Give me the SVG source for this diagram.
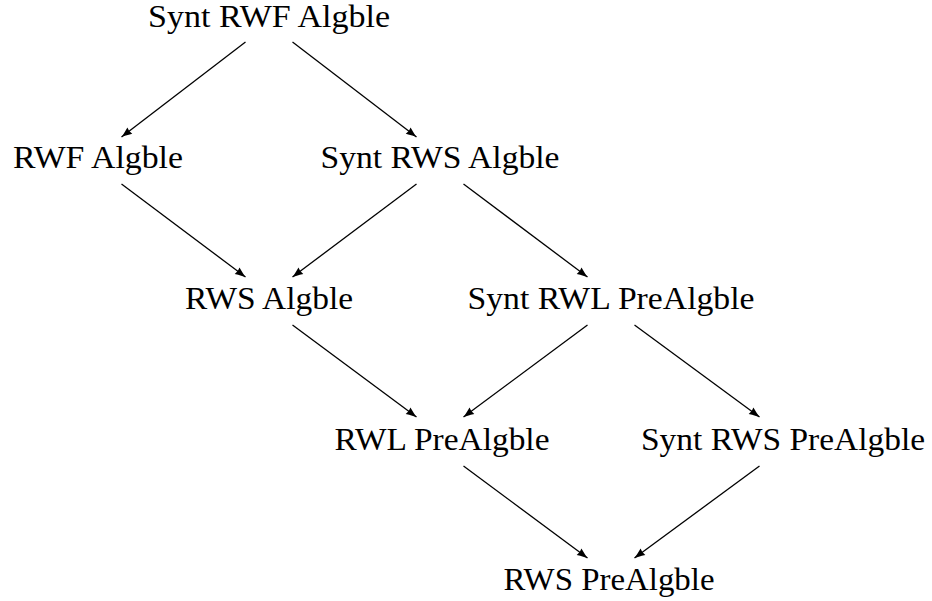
<svg xmlns="http://www.w3.org/2000/svg" width="932" height="601" viewBox="0 0 932 601">
  <style>
    .label { font-family: 'Liberation Serif', 'Times New Roman', serif; font-size: 31px; fill: #000; text-anchor: middle; }
    .edge { stroke: #000; stroke-width: 1.3; fill: none; marker-end: url(#tip); }
  </style>
  <defs>
    <marker id="tip" markerUnits="userSpaceOnUse" viewBox="-11 -5 12 10" refX="0" refY="0" markerWidth="12" markerHeight="10" orient="auto">
      <path d="M0,0 C-2,-0.6 -6,-2 -10.5,-4 Q-9,0 -10.5,4 C-6,2 -2,0.6 0,0 Z" fill="#000"/>
    </marker>
  </defs>
  <rect width="932" height="601" fill="#fff"/>

  <!-- connectors -->
  <g id="edges">
    <line class="edge" x1="245.5" y1="42" x2="121.5" y2="137"/>
    <line class="edge" x1="292.5" y1="42" x2="416.5" y2="137"/>
    <line class="edge" x1="121.5" y1="184" x2="245.5" y2="277"/>
    <line class="edge" x1="416.5" y1="184" x2="292.5" y2="277"/>
    <line class="edge" x1="463.5" y1="184" x2="587.5" y2="277"/>
    <line class="edge" x1="292.5" y1="325" x2="416.5" y2="417"/>
    <line class="edge" x1="587.5" y1="325" x2="463.5" y2="417"/>
    <line class="edge" x1="634.5" y1="325" x2="759.5" y2="417"/>
    <line class="edge" x1="463.5" y1="466" x2="587.5" y2="558"/>
    <line class="edge" x1="759.5" y1="466" x2="634.5" y2="558"/>
  </g>

  <!-- nodes -->
  <g id="synt-rwf-algble"><text class="label" x="269" y="26.5" textLength="242" lengthAdjust="spacingAndGlyphs">Synt RWF Algble</text></g>
  <g id="rwf-algble"><text class="label" x="98" y="168" textLength="170" lengthAdjust="spacingAndGlyphs">RWF Algble</text></g>
  <g id="synt-rws-algble"><text class="label" x="440" y="168" textLength="239" lengthAdjust="spacingAndGlyphs">Synt RWS Algble</text></g>
  <g id="rws-algble"><text class="label" x="269" y="309" textLength="168" lengthAdjust="spacingAndGlyphs">RWS Algble</text></g>
  <g id="synt-rwl-prealgble"><text class="label" x="611" y="309" textLength="287" lengthAdjust="spacingAndGlyphs">Synt RWL PreAlgble</text></g>
  <g id="rwl-prealgble"><text class="label" x="442" y="450" textLength="215" lengthAdjust="spacingAndGlyphs">RWL PreAlgble</text></g>
  <g id="synt-rws-prealgble"><text class="label" x="783" y="450" textLength="284" lengthAdjust="spacingAndGlyphs">Synt RWS PreAlgble</text></g>
  <g id="rws-prealgble"><text class="label" x="609" y="590" textLength="211" lengthAdjust="spacingAndGlyphs">RWS PreAlgble</text></g>
</svg>
